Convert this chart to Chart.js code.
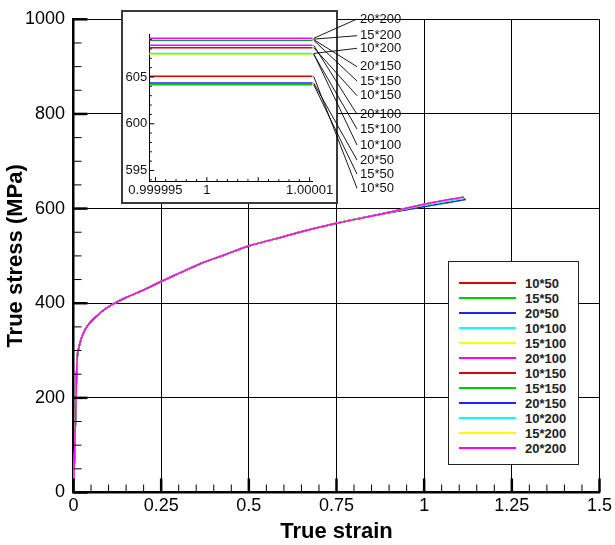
<!DOCTYPE html>
<html>
<head>
<meta charset="utf-8">
<script src="https://cdn.jsdelivr.net/npm/chart.js@4.4.1/dist/chart.umd.min.js"></script>
<style>
  html, body { margin: 0; padding: 0; background: #fff; }
  #wrap { position: relative; width: 615px; height: 545px; overflow: hidden; font-family: "Liberation Sans", Arial, sans-serif; }
  #main { position: absolute; left: 0; top: 0; }
  #insetBox { position: absolute; box-sizing: border-box; left: 121px; top: 10px; width: 217px; height: 194px; border: 2px solid #3a3a3a; background: #fff; }
  #inset { position: absolute; left: 121px; top: 5px; }
  #legend { position: absolute; box-sizing: border-box; left: 448px; top: 261px; width: 131px; height: 204px; border: 1.5px solid #222; background: #fff; }
  .lrow { position: absolute; left: 0; height: 15px; width: 128px; }
  .lline { position: absolute; left: 10px; top: 6.5px; width: 57px; height: 1.5px; }
  .ltext { position: absolute; left: 76px; top: 0; font: bold 13px "Liberation Sans", Arial, sans-serif; line-height: 15px; color: #222; white-space: nowrap; }
</style>
</head>
<body>
<div id="wrap">
  <canvas id="main" width="615" height="545"></canvas>
  <div id="insetBox"></div>
  <canvas id="inset" width="300" height="200"></canvas>
  <div id="legend"></div>
</div>
<script>
// ---------------- data ----------------
const seriesNames = ['10*50','15*50','20*50','10*100','15*100','20*100','10*150','15*150','20*150','10*200','15*200','20*200'];
const seriesColors = ['#dd0000','#00cc00','#2222ff','#00ffff','#ffff00','#ff00ff','#dd0000','#00cc00','#2222ff','#00ffff','#ffff00','#ff00ff'];

// shared part of the true stress-strain curve (all series overlap here)
const commonStrain = [0, 0.003, 0.006, 0.008, 0.011, 0.015, 0.022, 0.033, 0.046, 0.066, 0.08, 0.095, 0.115, 0.15, 0.2, 0.25, 0.3, 0.36, 0.43, 0.5, 0.575, 0.65, 0.75, 0.875];
const commonStress = [0, 80, 165, 230, 288, 305, 325, 344, 358, 373, 382, 390, 399, 412, 428, 446, 463, 483, 502, 521, 536, 551, 569, 588];

// per-series values: stress at strain = 1, and curve end point
const stressAtOne = [605.07, 604.18, 604.36, 607.48, 607.43, 608.39, 608.14, 608.93, 609.00, 607.52, 609.05, 609.14];
const endStrain  = [1.116, 1.119, 1.118, 1.113, 1.113, 1.112, 1.112, 1.112, 1.111, 1.113, 1.111, 1.113];
const endStress  = [620.5, 619.0, 619.5, 622.0, 622.0, 623.0, 623.0, 623.8, 623.8, 622.0, 624.0, 624.5];

// inset
const insetStrain = [0.9999944, 1.0000103];
const insetXTicks = [0.999995, 1, 1.00001];
const insetXLabels = ['0.999995', '1', '1.00001'];
const insetYTicks = [595, 600, 605];
const insetYLabels = ['595', '600', '605'];
const insetLabelOrder = ['20*200','15*200','10*200','20*150','15*150','10*150','20*100','15*100','10*100','20*50','15*50','10*50'];

// main axes
const xTickValues = [0, 0.25, 0.5, 0.75, 1, 1.25, 1.5];
const xTickLabels = ['0', '0.25', '0.5', '0.75', '1', '1.25', '1.5'];
const yTickValues = [0, 200, 400, 600, 800, 1000];
const yTickLabels = ['0', '200', '400', '600', '800', '1000'];

// ---------------- layout constants ----------------
const FONT = '"Liberation Sans", Arial, sans-serif';
const insetLabelY = [19, 35.7, 48.3, 66.7, 81, 95.7, 114.3, 129, 145, 160, 174, 188.3]; // page px
const insetLabelX = 360;
const insetTop = 5, insetLeft = 121;
const N = seriesNames.length;

// ---------------- main chart ----------------
const mainDatasets = seriesNames.map((name, i) => {
  const pts = commonStrain.map((s, k) => ({ x: s, y: commonStress[k] }));
  pts.push({ x: 1, y: stressAtOne[i] });
  pts.push({ x: endStrain[i], y: endStress[i] });
  return {
    label: name, data: pts, borderColor: seriesColors[i], backgroundColor: seriesColors[i],
    borderWidth: 1.5, pointRadius: 0, fill: false, cubicInterpolationMode: 'monotone',
    order: N - 1 - i
  };
});

const mainTicks = {
  id: 'mainTicks',
  afterDraw(chart) {
    const { ctx, chartArea: a, scales: { x, y } } = chart;
    ctx.save();
    ctx.strokeStyle = '#000';
    ctx.lineCap = 'butt';
    for (let i = 0; i <= 30; i++) {
      const major = i % 5 === 0;
      const px = x.getPixelForValue(i * 0.05);
      ctx.lineWidth = major ? 2.5 : 1;
      ctx.beginPath();
      ctx.moveTo(px, a.bottom);
      ctx.lineTo(px, a.bottom - (major ? 14 : 8));
      ctx.stroke();
    }
    for (let i = 0; i <= 20; i++) {
      const major = i % 4 === 0;
      const py = y.getPixelForValue(i * 50);
      ctx.lineWidth = major ? 2.5 : 1;
      ctx.beginPath();
      ctx.moveTo(a.left, py);
      ctx.lineTo(a.left + (major ? 14 : 8), py);
      ctx.stroke();
    }
    ctx.restore();
  }
};

new Chart(document.getElementById('main'), {
  type: 'line',
  data: { datasets: mainDatasets },
  options: {
    responsive: false, animation: false, devicePixelRatio: 1,
    layout: { padding: { top: 11, right: 12.3, left: 0, bottom: 0 } },
    plugins: { legend: { display: false }, tooltip: { enabled: false } },
    scales: {
      x: {
        type: 'linear', min: 0, max: 1.5,
        afterBuildTicks: s => { s.ticks = xTickValues.map(v => ({ value: v })); },
        afterFit: s => { s.height = 52.5; },
        ticks: { callback: (v, i) => xTickLabels[i], font: { family: FONT, size: 18 }, color: '#000', padding: 3, maxRotation: 0, autoSkip: false },
        grid: { color: '#000', lineWidth: 1, drawTicks: false },
        border: { display: true, color: '#000', width: 2.5 },
        title: { display: true, text: 'True strain', color: '#000', font: { family: FONT, size: 22, weight: 'bold' }, padding: { top: 0, bottom: 0 } }
      },
      y: {
        type: 'linear', min: 0, max: 1000,
        afterBuildTicks: s => { s.ticks = yTickValues.map(v => ({ value: v })); },
        afterFit: s => { s.width = 73.5; },
        ticks: { callback: (v, i) => yTickLabels[i], font: { family: FONT, size: 18 }, color: '#000', padding: 8.5 },
        grid: { color: '#000', lineWidth: 1, drawTicks: false },
        border: { display: true, color: '#000', width: 2.5 },
        title: { display: true, text: 'True stress (MPa)', color: '#000', font: { family: FONT, size: 22, weight: 'bold' }, padding: { top: 3, bottom: 0 } }
      }
    }
  },
  plugins: [mainTicks]
});

// ---------------- inset chart ----------------
const insetDatasets = seriesNames.map((name, i) => ({
  label: name,
  data: insetStrain.map(s => ({ x: s, y: stressAtOne[i] })),
  borderColor: seriesColors[i], borderWidth: 1.5, pointRadius: 0, fill: false,
  order: N - 1 - i
}));

const insetDecor = {
  id: 'insetDecor',
  afterDraw(chart) {
    const { ctx, chartArea: a, scales: { x, y } } = chart;
    ctx.save();
    ctx.strokeStyle = '#000';
    // ticks (inward)
    const x0 = insetXTicks[0], dx = (insetXTicks[1] - insetXTicks[0]) / 5;
    for (let i = 0; i <= 15; i++) {
      const px = x.getPixelForValue(x0 + i * dx);
      if (px < a.left - 0.5 || px > a.right + 0.5) continue;
      const major = i % 5 === 0;
      ctx.lineWidth = 1;
      ctx.beginPath(); ctx.moveTo(px, a.bottom); ctx.lineTo(px, a.bottom - (major ? 4.5 : 2.5)); ctx.stroke();
    }
    for (let v = 594; v <= 609; v++) {
      const py = y.getPixelForValue(v);
      const major = v % 5 === 0;
      ctx.lineWidth = 1;
      ctx.beginPath(); ctx.moveTo(a.left, py); ctx.lineTo(a.left + (major ? 5 : 2.5), py); ctx.stroke();
    }
    // leader lines and labels
    ctx.font = '13px ' + FONT;
    ctx.fillStyle = '#111';
    ctx.textBaseline = 'middle';
    ctx.textAlign = 'left';
    const ex = x.getPixelForValue(insetStrain[insetStrain.length - 1]);
    insetLabelOrder.forEach((name, k) => {
      const i = seriesNames.indexOf(name);
      const sy = y.getPixelForValue(stressAtOne[i]);
      const ly = insetLabelY[k] - insetTop;
      const lx = insetLabelX - insetLeft;
      ctx.lineWidth = 0.9;
      ctx.beginPath(); ctx.moveTo(ex + 1, sy); ctx.lineTo(lx - 3, ly); ctx.stroke();
      ctx.fillText(name, lx, ly);
    });
    ctx.restore();
  }
};

new Chart(document.getElementById('inset'), {
  type: 'line',
  data: { datasets: insetDatasets },
  options: {
    responsive: false, animation: false, devicePixelRatio: 1,
    layout: { padding: { top: 29, right: 108.3, left: 0, bottom: 0 } },
    plugins: { legend: { display: false }, tooltip: { enabled: false } },
    scales: {
      x: {
        type: 'linear', min: insetStrain[0], max: insetStrain[1],
        afterBuildTicks: s => { s.ticks = insetXTicks.map(v => ({ value: v })); },
        afterFit: s => { s.height = 23.3; },
        ticks: { callback: (v, i) => insetXLabels[i], font: { family: FONT, size: 13 }, color: '#111', padding: 1, maxRotation: 0, autoSkip: false },
        grid: { display: false, drawTicks: false },
        border: { display: true, color: '#000', width: 1 }
      },
      y: {
        type: 'linear', min: 593.8, max: 609.6,
        afterBuildTicks: s => { s.ticks = insetYTicks.map(v => ({ value: v })); },
        afterFit: s => { s.width = 28.3; },
        ticks: { callback: (v, i) => insetYLabels[i], font: { family: FONT, size: 13 }, color: '#111', padding: 2 },
        grid: { display: false, drawTicks: false },
        border: { display: true, color: '#000', width: 1 }
      }
    }
  },
  plugins: [insetDecor]
});

// ---------------- legend ----------------
const legend = document.getElementById('legend');
seriesNames.forEach((name, i) => {
  const row = document.createElement('div');
  row.className = 'lrow';
  row.style.top = (13.5 + i * 15) + 'px';
  const ln = document.createElement('div');
  ln.className = 'lline';
  ln.style.background = seriesColors[i];
  const tx = document.createElement('div');
  tx.className = 'ltext';
  tx.textContent = name;
  row.appendChild(ln); row.appendChild(tx);
  legend.appendChild(row);
});
</script>
</body>
</html>
